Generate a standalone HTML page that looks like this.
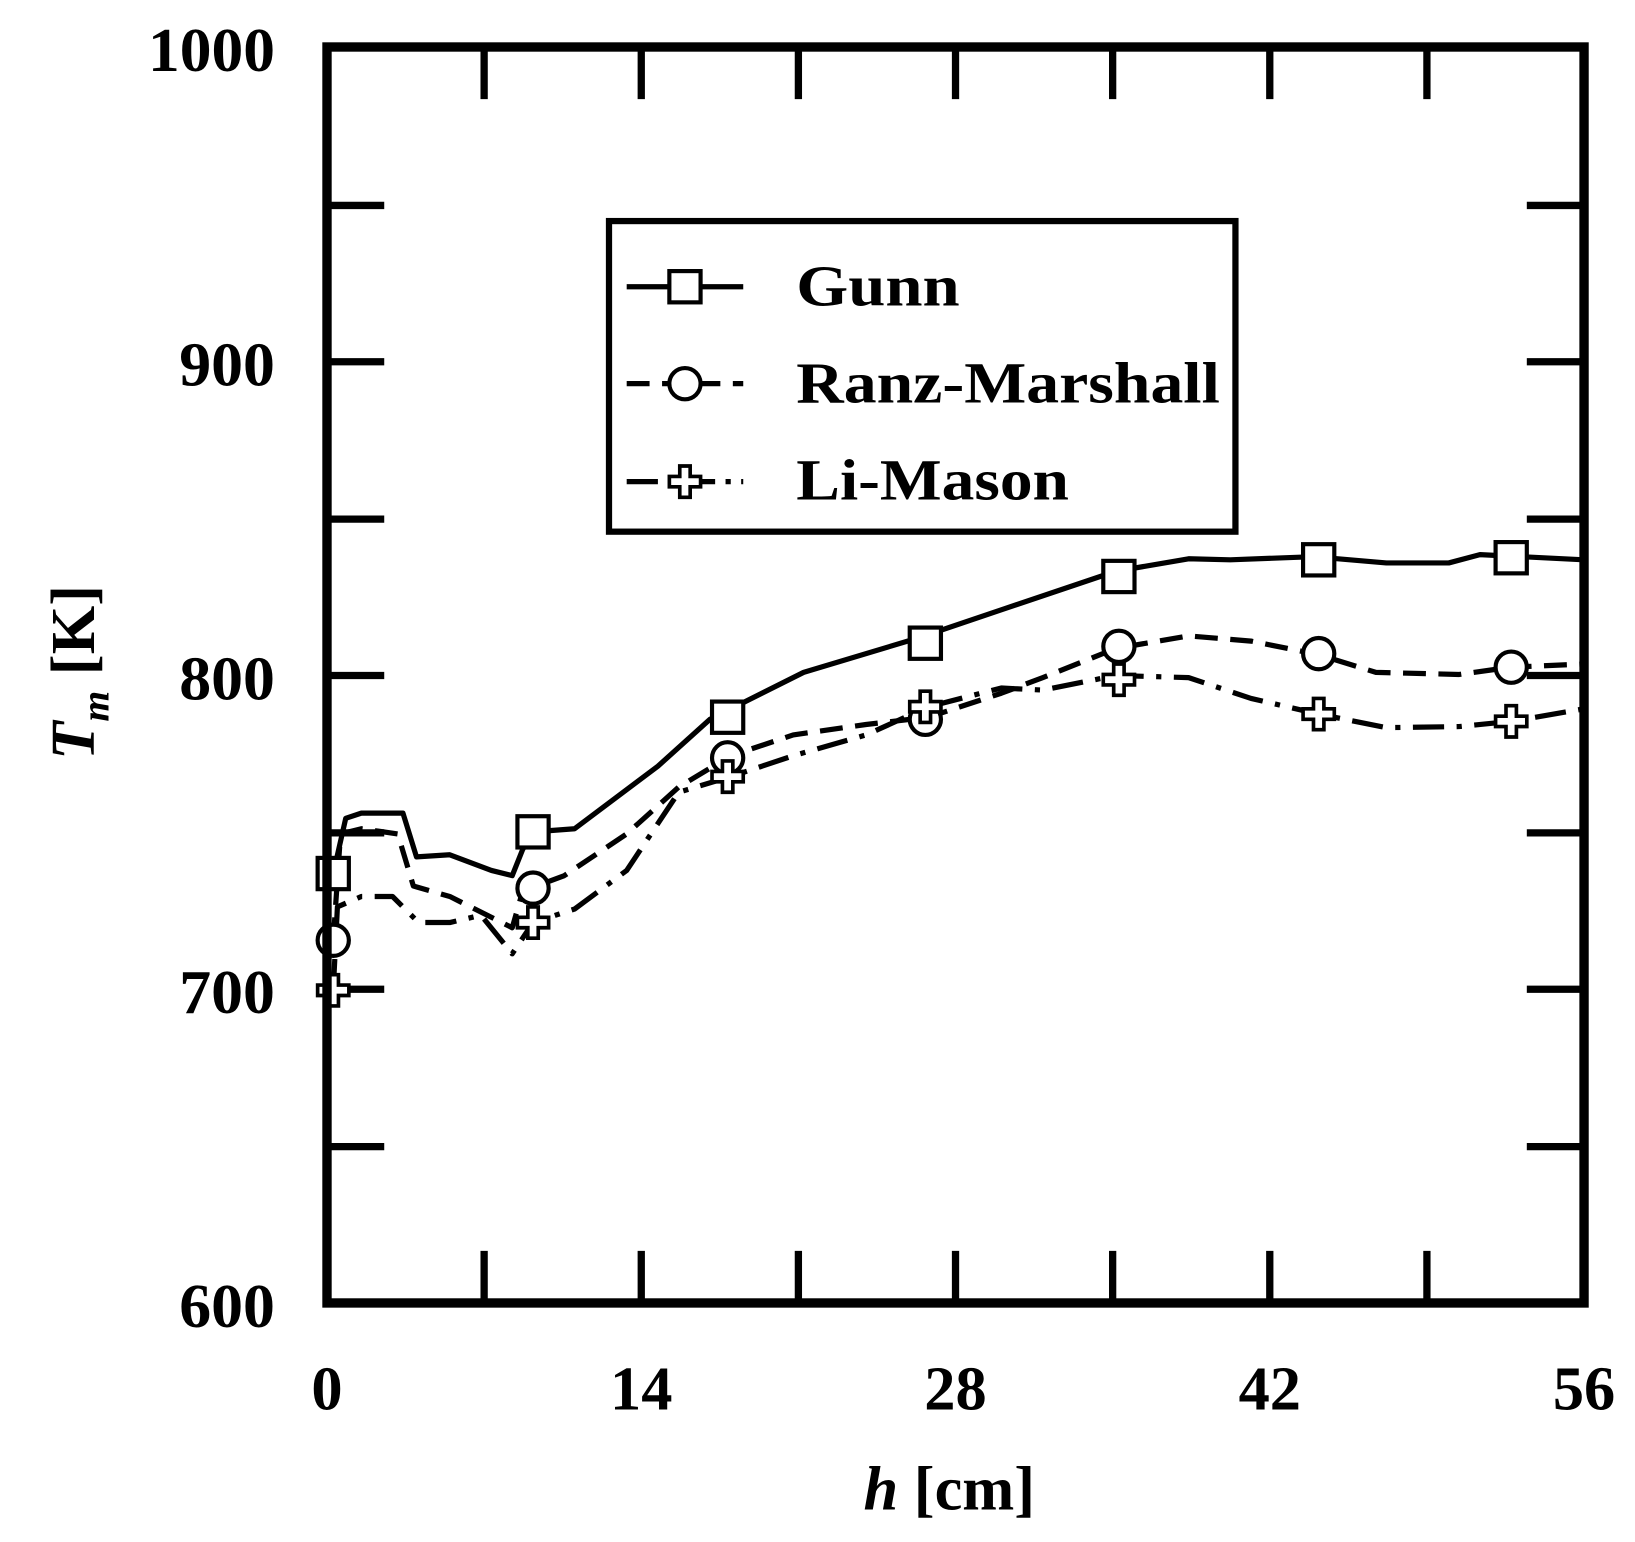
<!DOCTYPE html>
<html><head><meta charset="utf-8"><style>
html,body{margin:0;padding:0;background:#fff;}
svg{display:block;}
text{font-family:"Liberation Serif",serif;font-weight:bold;fill:#000;}
</style></head><body>
<svg width="1635" height="1542" viewBox="0 0 1635 1542" xmlns="http://www.w3.org/2000/svg">
<defs>
<path id="cr" d="M-5,-15h10v10h10v10h-10v10h-10v-10h-10v-10h10z"/>
</defs>
<g transform="translate(327,47) scale(1.0406,1.0423) translate(-312,-45)">
<g stroke="#000" stroke-width="7" fill="none">
<path d="M312,197h55M312,347h55M312,498h55M312,648h55M312,799h55M312,949h55M312,1100h55"/>
<path d="M1520,197h-55M1520,347h-55M1520,498h-55M1520,648h-55M1520,799h-55M1520,949h-55M1520,1100h-55"/>
<path d="M463,1250v-50M614,1250v-50M765,1250v-50M916,1250v-50M1067,1250v-50M1218,1250v-50M1369,1250v-50"/>
<path d="M463,45v50M614,45v50M765,45v50M916,45v50M1067,45v50M1218,45v50M1369,45v50"/>
</g>
<g fill="none" stroke="#000" stroke-width="5" stroke-linejoin="round">
<polyline points="318,838 330,785 345,780 385,780 398,822 430,820 470,835 490,840 500,815 510,798 550,795 630,735 680,690 770,645 880,612 960,585 1070,548 1140,536 1180,537 1260,534 1330,540 1390,540 1420,532 1520,537"/>
<polyline stroke-dasharray="22,12" points="318,902 325,800 345,795 380,800 395,850 430,860 470,880 490,890 500,855 540,840 600,800 650,755 700,725 760,705 830,695 890,688 960,665 1000,650 1070,622 1140,610 1200,615 1265,628 1320,645 1400,647 1450,640 1520,637"/>
<polyline stroke-dasharray="30,12,5,12" points="318,950 322,870 345,860 375,860 400,885 430,885 460,878 490,915 510,885 550,872 600,835 650,760 700,745 760,725 830,705 890,678 960,660 1000,662 1070,648 1140,650 1200,670 1265,685 1330,698 1400,697 1450,692 1520,680"/>
</g>
<g fill="#fff" stroke="#000" stroke-width="4">
<rect x="303" y="823" width="30" height="30"/><rect x="495" y="783" width="30" height="30"/><rect x="682" y="673" width="30" height="30"/><rect x="872" y="602" width="30" height="30"/><rect x="1058" y="538" width="30" height="30"/><rect x="1250" y="522" width="30" height="30"/><rect x="1435" y="520" width="30" height="30"/>
<circle cx="318" cy="902" r="15"/><circle cx="510" cy="852" r="15"/><circle cx="697" cy="727" r="15"/><circle cx="887" cy="690" r="15"/><circle cx="1073" cy="620" r="15"/><circle cx="1265" cy="627" r="15"/><circle cx="1450" cy="640" r="15"/>
</g>
<g fill="#fff" stroke="#000" stroke-width="3.5">
<use href="#cr" x="318" y="950"/><use href="#cr" x="510" y="885"/><use href="#cr" x="697" y="745"/><use href="#cr" x="887" y="678"/><use href="#cr" x="1073" y="652"/><use href="#cr" x="1265" y="685"/><use href="#cr" x="1450" y="692"/>
</g>
<rect x="312" y="45" width="1208" height="1205" fill="none" stroke="#000" stroke-width="9"/>
<rect x="583" y="212" width="602" height="298" fill="#fff" stroke="#000" stroke-width="6"/>
<g stroke="#000" stroke-width="5" fill="none">
<path d="M600,275h112"/>
<path d="M600,368h112" stroke-dasharray="22,12"/>
<path d="M600,462h112" stroke-dasharray="30,10,5,10"/>
</g>
<rect x="641" y="260" width="30" height="30" fill="#fff" stroke="#000" stroke-width="4"/>
<circle cx="656" cy="368" r="15" fill="#fff" stroke="#000" stroke-width="4"/>
<use href="#cr" x="656" y="462" fill="#fff" stroke="#000" stroke-width="3.5"/>
<text x="763" y="293" font-size="56" textLength="157" lengthAdjust="spacingAndGlyphs">Gunn</text>
<text x="763" y="386" font-size="56" textLength="407" lengthAdjust="spacingAndGlyphs">Ranz-Marshall</text>
<text x="763" y="479" font-size="56" textLength="262" lengthAdjust="spacingAndGlyphs">Li-Mason</text>
<g font-size="60" text-anchor="end">
<text x="262" y="68" textLength="122" lengthAdjust="spacingAndGlyphs">1000</text>
<text x="262" y="370" textLength="92" lengthAdjust="spacingAndGlyphs">900</text>
<text x="262" y="671" textLength="92" lengthAdjust="spacingAndGlyphs">800</text>
<text x="262" y="972" textLength="92" lengthAdjust="spacingAndGlyphs">700</text>
<text x="262" y="1273" textLength="92" lengthAdjust="spacingAndGlyphs">600</text>
</g>
<g font-size="60" text-anchor="middle">
<text x="312" y="1352">0</text>
<text x="614" y="1352">14</text>
<text x="916" y="1352">28</text>
<text x="1218" y="1352">42</text>
<text x="1520" y="1352">56</text>
</g>
<text x="910" y="1448" font-size="60" text-anchor="middle"><tspan font-style="italic">h</tspan> [cm]</text>
<text transform="translate(88,645) rotate(-90)" font-size="60" text-anchor="middle"><tspan font-style="italic">T</tspan><tspan font-style="italic" font-size="38" dy="14">m</tspan><tspan dy="-14"> [K]</tspan></text>
</g>
</svg>
</body></html>
